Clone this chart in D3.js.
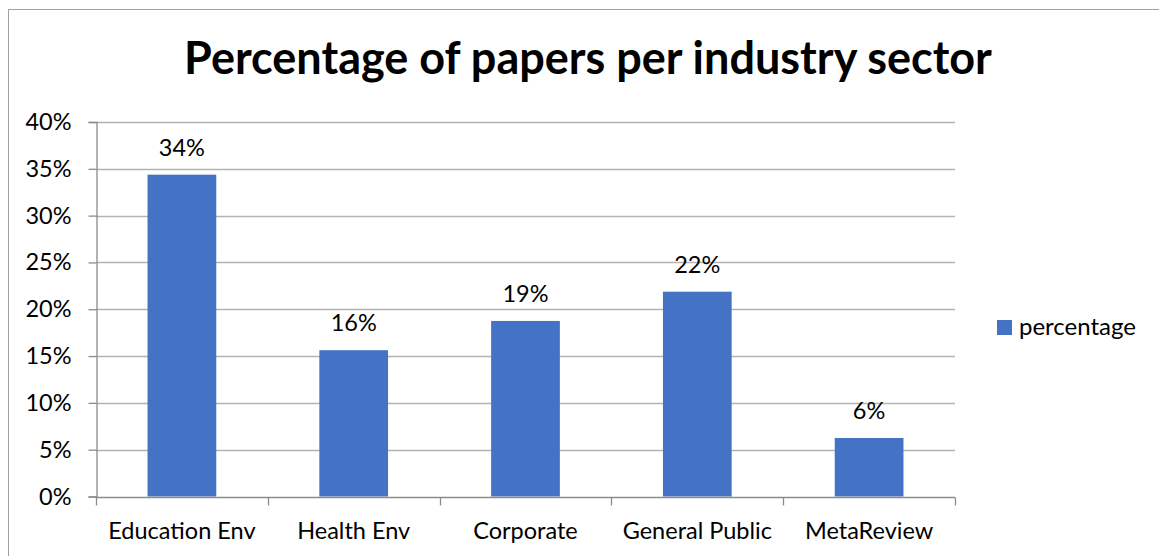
<!DOCTYPE html>
<html>
<head>
<meta charset="utf-8">
<script src="https://cdn.jsdelivr.net/npm/d3@7"></script>
<style>
  html, body { margin: 0; padding: 0; background: #ffffff; }
  svg { display: block; }
  text { font-family: Lato, "Open Sans", sans-serif; fill: #000; }
</style>
</head>
<body>
<svg id="chart" width="1159" height="556"></svg>
<script>
// Share of reviewed papers in each industry sector
const categories = ["Education Env", "Health Env", "Corporate", "General Public", "MetaReview"];
const percentages = [0.34375, 0.15625, 0.1875, 0.21875, 0.0625];
const yTicks = [0, 0.05, 0.10, 0.15, 0.20, 0.25, 0.30, 0.35, 0.40];
const seriesName = "percentage";
const chartTitle = "Percentage of papers per industry sector";

const W = 1159, H = 556;
const svg = d3.select("#chart");
const barColor = "#4472C4";
const gridColor = "#b3b3b3";
const axisColor = "#8c8c8c";
const labelSize = 23.5;

// chart frame
svg.append("rect")
  .attr("x", 8.5).attr("y", 9.5)
  .attr("width", W).attr("height", H)
  .attr("fill", "none").attr("stroke", "#a0a0a0").attr("stroke-width", 1);

const plot = { left: 96, right: 955, top: 122, bottom: 496.5 };

const x = d3.scaleBand()
  .domain(categories)
  .range([plot.left, plot.right])
  .paddingInner(0.6)
  .paddingOuter(0.3);

const y = d3.scaleLinear()
  .domain([0, 0.40])
  .range([plot.bottom, plot.top]);

// horizontal gridlines
svg.append("g")
  .selectAll("line")
  .data(yTicks.slice(1))
  .join("line")
  .attr("x1", plot.left).attr("x2", plot.right)
  .attr("y1", d => Math.round(y(d)) + 0.5).attr("y2", d => Math.round(y(d)) + 0.5)
  .attr("stroke", gridColor).attr("stroke-width", 1.3);

// y axis
const yAxis = d3.axisLeft(y)
  .tickValues(yTicks)
  .tickFormat(d3.format(".0%"))
  .tickSize(8)
  .tickPadding(17);
const gy = svg.append("g")
  .attr("transform", `translate(${plot.left + 0.5},0)`)
  .call(yAxis);
gy.select(".domain").attr("stroke", axisColor).attr("stroke-width", 1.3);
gy.selectAll(".tick line").attr("stroke", axisColor).attr("stroke-width", 1.3);
gy.selectAll(".tick text").attr("font-size", labelSize).attr("font-family", "Lato").attr("fill", "#000");

// bars
svg.append("g")
  .selectAll("rect")
  .data(categories.map((c, i) => ({ c, v: percentages[i] })))
  .join("rect")
  .attr("x", d => x(d.c))
  .attr("width", x.bandwidth())
  .attr("y", d => y(d.v))
  .attr("height", d => y(0) - y(d.v))
  .attr("fill", barColor);

// x axis with category boundary ticks
const gx = svg.append("g")
  .attr("transform", `translate(0,${Math.round(plot.bottom) + 0.5})`);
gx.append("line")
  .attr("x1", plot.left).attr("x2", plot.right)
  .attr("stroke", axisColor).attr("stroke-width", 1.3);
const step = x.step();
const boundaries = d3.range(categories.length + 1).map(i => plot.left + i * step);
gx.selectAll("line.tick")
  .data(boundaries)
  .join("line")
  .attr("class", "tick")
  .attr("x1", d => Math.round(d) + 0.5).attr("x2", d => Math.round(d) + 0.5)
  .attr("y1", 0).attr("y2", 8)
  .attr("stroke", axisColor).attr("stroke-width", 1.3);
gx.selectAll("text")
  .data(categories)
  .join("text")
  .attr("x", d => x(d) + x.bandwidth() / 2)
  .attr("y", 41)
  .attr("text-anchor", "middle")
  .attr("font-size", labelSize)
  .text(d => d);

// value labels
const fmt = d3.format(".0%");
svg.append("g")
  .selectAll("text")
  .data(categories.map((c, i) => ({ c, v: percentages[i] })))
  .join("text")
  .attr("x", d => x(d.c) + x.bandwidth() / 2)
  .attr("y", d => y(d.v) - 19)
  .attr("text-anchor", "middle")
  .attr("font-size", labelSize)
  .text(d => fmt(d.v));

// title
svg.append("text")
  .attr("x", 588)
  .attr("y", 74)
  .attr("text-anchor", "middle")
  .attr("font-size", 45)
  .attr("font-weight", "bold")
  .text(chartTitle);

// legend
const lg = svg.append("g").attr("transform", "translate(997,320)");
lg.append("rect").attr("width", 15).attr("height", 15).attr("fill", barColor);
lg.append("text").attr("x", 22).attr("y", 15).attr("font-size", labelSize + 0.5).text(seriesName);
</script>
</body>
</html>
